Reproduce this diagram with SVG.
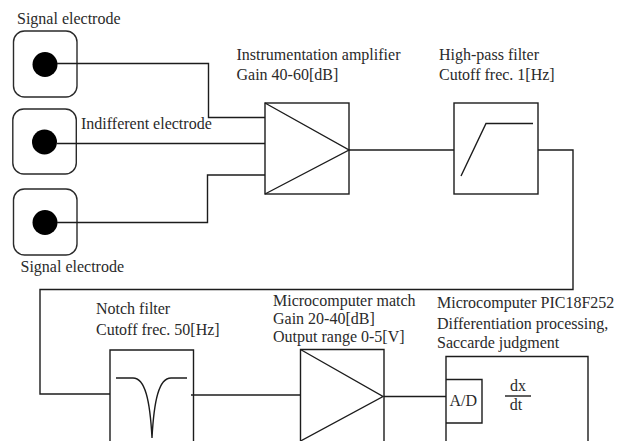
<svg xmlns="http://www.w3.org/2000/svg" width="626" height="441" viewBox="0 0 626 441">
<style>
text{font-family:"Liberation Serif","Times New Roman",serif;font-size:16px;fill:#2a2a2a}
.l{fill:none;stroke:#1c1c1c;stroke-width:1.4}
.b{fill:#fff;stroke:#1c1c1c;stroke-width:1.4}
.e{fill:none;stroke:#2a2a2a;stroke-width:1.4}
.c{fill:#000}
</style>
<rect width="626" height="441" fill="#fff"/>
<g id="electrode-1"><rect class="e" x="13.500" y="31" width="63.500" height="66" rx="11"/><circle class="c" cx="45" cy="64.500" r="12.500"/><text x="17" y="24">Signal electrode</text></g>
<g id="electrode-2"><rect class="e" x="12.800" y="109" width="63.500" height="65" rx="11"/><circle class="c" cx="44.500" cy="142" r="12.500"/></g>
<g id="electrode-3"><rect class="e" x="13.500" y="189" width="63.500" height="66" rx="11"/><circle class="c" cx="45" cy="222.500" r="12.500"/><text x="20.500" y="272">Signal electrode</text></g>
<g id="connectors">
<path class="l" d="M57 63.500H208.500V117.500H265"/>
<path class="l" d="M57 143.500H265"/>
<path class="l" d="M57 222.500H207.500V175H265"/>
<path class="l" d="M349 150H454"/>
<path class="l" d="M538 150H573V289.500H40V394H110"/>
<path class="l" d="M191 395H300"/>
<path class="l" d="M384 396.500H446"/>
</g>
<text id="indifferent-label" x="81" y="129">Indifferent electrode</text>
<g id="instrumentation-amplifier"><rect class="b" x="265" y="103" width="84" height="91"/><path class="l" d="M265 103L349 150L265 194"/><text x="236.500" y="60">Instrumentation amplifier</text><text x="236.500" y="79.500">Gain 40-60[dB]</text></g>
<g id="high-pass-filter"><rect class="b" x="454" y="103" width="84" height="91"/><path class="l" d="M461 176L486 123.500H533"/><text x="439" y="60">High-pass filter</text><text x="439" y="79.500">Cutoff frec. 1[Hz]</text></g>
<g id="notch-filter"><path class="l" d="M110 441V350H193.500V441"/><path class="l" d="M116 378H133C145 378 150 400 152 438C154 400 159 378 171 378H187"/><text x="96" y="314">Notch filter</text><text x="96" y="335">Cutoff frec. 50[Hz]</text></g>
<g id="microcomputer-match"><path class="l" d="M300.500 441V349.500H384V441"/><path class="l" d="M300.500 349.500L383 396.500L300.500 441"/><text x="273" y="306">Microcomputer match</text><text x="273" y="324">Gain 20-40[dB]</text><text x="273" y="342">Output range 0-5[V]</text></g>
<g id="microcomputer"><path class="l" d="M446 441V356.500H588V441"/><path class="l" d="M446 379.500H482V423H446"/><text x="437" y="308">Microcomputer PIC18F252</text><text x="437" y="329">Differentiation processing,</text><text x="437" y="348">Saccarde judgment</text><text x="449.500" y="406">A/D</text><text x="518" y="391" text-anchor="middle">dx</text><path class="l" d="M505 396H531"/><text x="516" y="410" text-anchor="middle">dt</text></g>
</svg>
